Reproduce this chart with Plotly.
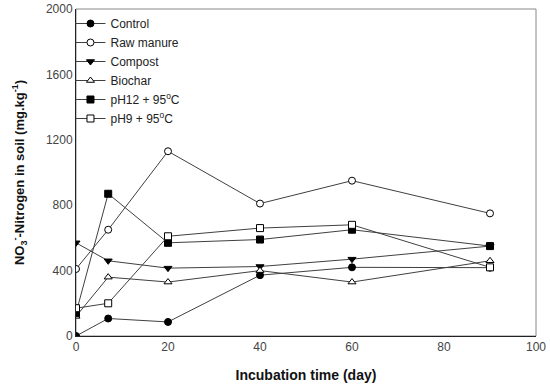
import plotly.graph_objects as go

days = [0, 7, 20, 40, 60, 90]
control = [0, 107, 86, 372, 420, 418]
raw_manure = [410, 650, 1130, 810, 950, 750]
compost = [570, 460, 415, 425, 470, 550]
biochar = [120, 360, 330, 400, 330, 460]
ph12 = [140, 870, 570, 590, 650, 550]
ph9 = [170, 200, 610, 660, 680, 420]

series = [
    ("Control", control, "circle", "black"),
    ("Raw manure", raw_manure, "circle", "white"),
    ("Compost", compost, "triangle-down", "black"),
    ("Biochar", biochar, "triangle-up", "white"),
    ("pH12 + 95<sup>o</sup>C", ph12, "square", "black"),
    ("pH9 + 95<sup>o</sup>C", ph9, "square", "white"),
]

fig = go.Figure()
for name, vals, sym, fill in series:
    fig.add_trace(go.Scatter(
        x=days, y=vals, name=name, mode="lines+markers",
        line=dict(color="#404040", width=1),
        marker=dict(symbol=sym, size=7, color=fill, line=dict(color="black", width=1)),
    ))

fig.update_layout(
    width=550, height=390,
    margin=dict(l=76, r=14, t=9, b=54, autoexpand=False),
    paper_bgcolor="white", plot_bgcolor="white",
    font=dict(family="Liberation Sans, Arial, sans-serif", color="#444444", size=12),
    showlegend=True,
    legend=dict(x=-0.012, y=1.0, xanchor="left", yanchor="top", bgcolor="rgba(0,0,0,0)",
                font=dict(size=12, color="#222222"), tracegroupgap=0, itemwidth=30),
    shapes=[dict(type="rect", xref="paper", yref="paper", x0=0, y0=0, x1=1, y1=1,
                 line=dict(color="#888888", width=1), layer="below")],
)
fig.update_xaxes(range=[0, 100], tickvals=[0, 20, 40, 60, 80, 100], showgrid=False, zeroline=False,
                 showline=True, linecolor="#222222", linewidth=1, ticks="", automargin=False,
                 title=dict(text="<b>Incubation time (day)</b>", font=dict(size=14, color="#111111"), standoff=16))
fig.update_yaxes(range=[0, 2000], tickvals=[0, 400, 800, 1200, 1600, 2000], showgrid=False, zeroline=False,
                 showline=True, linecolor="#222222", linewidth=1, ticks="", automargin=False,
                 title=dict(text="<b>NO<sub>3</sub><sup>-</sup>-Nitrogen in soil (mg.kg<sup>-1</sup>)</b>",
                            font=dict(size=13, color="#111111"), standoff=18))

fig.write_html("out.html", config={"displayModeBar": False},
               post_script="document.body.style.margin='0';")
